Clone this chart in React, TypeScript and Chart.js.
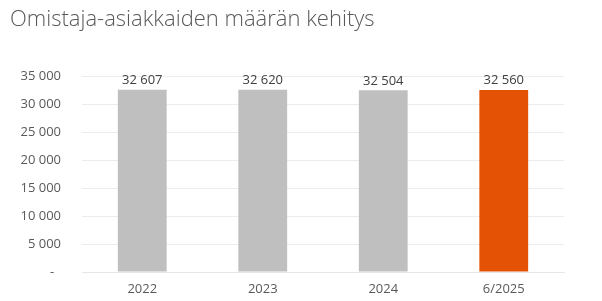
import React, { useEffect, useRef } from "react";
import { Chart, registerables } from "chart.js";

Chart.register(...registerables);

const titleText = "Omistaja-asiakkaiden määrän kehitys";
const categories = ["2022", "2023", "2024", "6/2025"];
const customers = [32607, 32620, 32504, 32560];
const barColors = ["#BFBFBF", "#BFBFBF", "#BFBFBF", "#E35205"];
const yMax = 35000;
const yStep = 5000;

const fmt = (v: number) => (v === 0 ? "-  " : String(v).replace(/\B(?=(\d{3})+(?!\d))/g, " "));

const valueLabels = {
  id: "valueLabels",
  afterDatasetsDraw(chart: any) {
    const { ctx } = chart;
    const meta = chart.getDatasetMeta(0);
    const data = chart.data.datasets[0].data as number[];
    ctx.save();
    ctx.font = "13px 'Open Sans'";
    ctx.fillStyle = "#404040";
    ctx.textAlign = "center";
    ctx.textBaseline = "bottom";
    meta.data.forEach((bar: any, i: number) => {
      ctx.fillText(fmt(data[i]), bar.x, bar.y - 3);
    });
    ctx.restore();
  },
};

export default function App() {
  const ref = useRef<HTMLCanvasElement>(null);
  useEffect(() => {
    document.body.style.margin = "0";
    const chart = new Chart(ref.current!, {
      type: "bar",
      data: {
        labels: categories,
        datasets: [
          {
            data: customers,
            backgroundColor: barColors,
            categoryPercentage: 1,
            barPercentage: 0.405,
          },
        ],
      },
      plugins: [valueLabels],
      options: {
        animation: false,
        responsive: false,
        layout: { padding: { left: 10, right: 38, top: 0, bottom: 4 } },
        plugins: {
          legend: { display: false },
          tooltip: { enabled: false },
          title: {
            display: true,
            text: titleText,
            align: "start",
            color: "#595959",
            font: { family: "'Open Sans'", size: 22, weight: 300 },
            padding: { top: 7, bottom: 43 },
          },
        },
        scales: {
          x: {
            afterFit: (axis: any) => {
              axis.height = 25;
            },
            grid: { display: false, drawTicks: false },
            border: { display: true, color: "#E6E6E6" },
            ticks: {
              color: "#595959",
              font: { family: "'Open Sans'", size: 13 },
              padding: 9,
            },
          },
          y: {
            min: 0,
            max: yMax,
            afterFit: (axis: any) => {
              axis.width = 72;
            },
            grid: { color: "#ECECEC", drawTicks: false },
            border: { display: false },
            ticks: {
              stepSize: yStep,
              color: "#595959",
              font: { family: "'Open Sans'", size: 13 },
              padding: 21,
              callback: (v: any) => fmt(Number(v)),
            },
          },
        },
      },
    });
    return () => chart.destroy();
  }, []);
  return <canvas ref={ref} width={602} height={301} style={{ display: "block" }} />;
}
